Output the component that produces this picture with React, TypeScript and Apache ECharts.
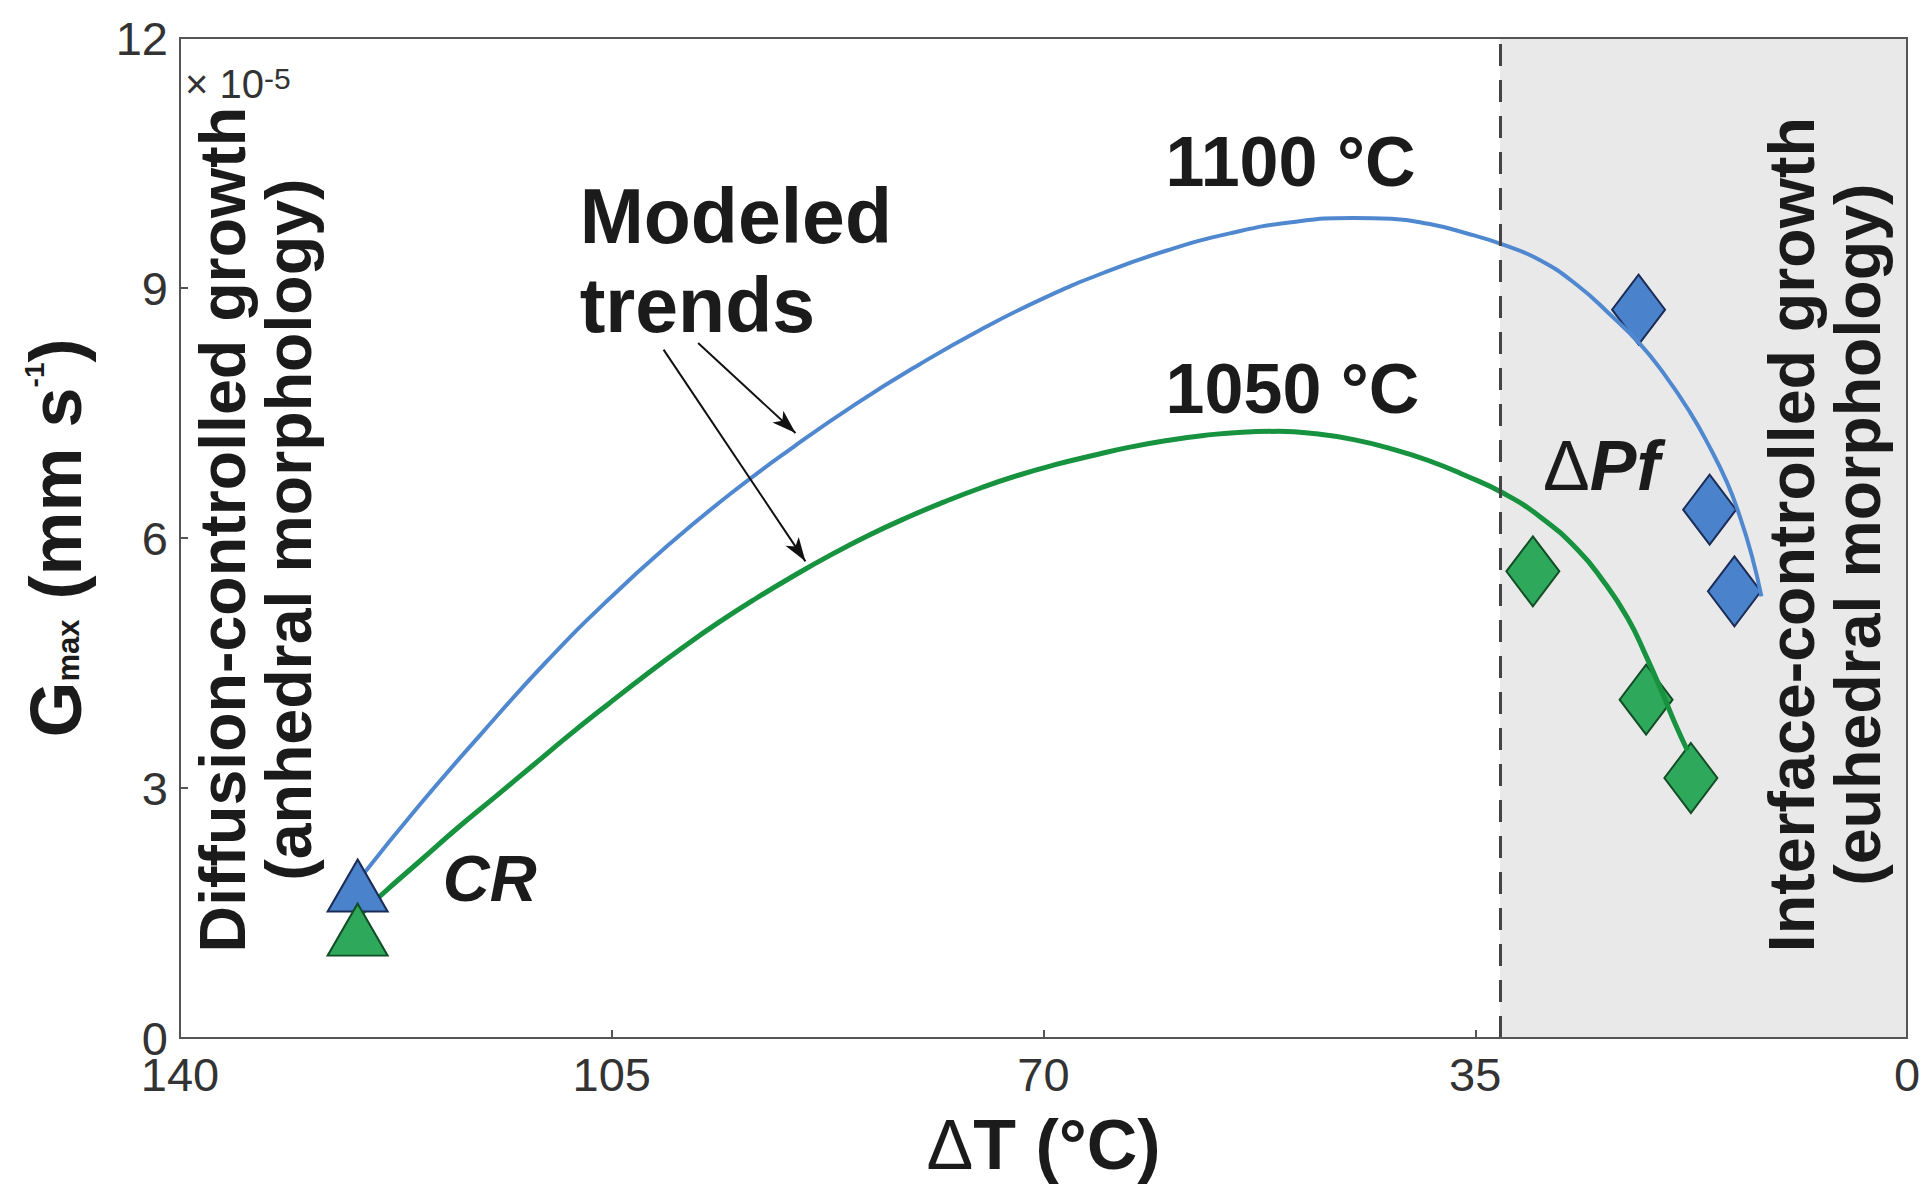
import { useEffect, useRef } from "react";
import * as echarts from "echarts";

// Undercooling ΔT (°C) against maximum growth rate Gmax (×10⁻⁵ mm s⁻¹)
const curve1100: [number, number][] = [
  [125.5, 1.9], [120.5, 2.81], [115.4, 3.68], [110.4, 4.5], [105.35, 5.25],
  [100.3, 5.93], [95.3, 6.54], [90.2, 7.1], [85.2, 7.61], [80.1, 8.08],
  [75.1, 8.5], [70.1, 8.87], [65.0, 9.19], [60.0, 9.45], [54.9, 9.655],
  [49.9, 9.79], [44.85, 9.84], [41.8, 9.83], [38.8, 9.77], [35.8, 9.66],
  [32.75, 9.52], [29.7, 9.33], [26.7, 9.03], [24.2, 8.7], [21.65, 8.33],
  [19.65, 7.96], [17.6, 7.51], [16.1, 7.12], [14.6, 6.67], [13.6, 6.28],
  [12.6, 5.8], [11.8, 5.3],
];
const curve1050: [number, number][] = [
  [125.6, 1.45], [123.5, 1.74], [120.5, 2.13], [117.5, 2.52], [114.4, 2.9],
  [111.4, 3.27], [108.4, 3.64], [105.35, 4.0], [102.3, 4.35], [99.3, 4.68],
  [96.3, 4.99], [93.25, 5.28], [90.2, 5.55], [87.2, 5.8], [84.2, 6.03],
  [81.15, 6.24], [78.1, 6.43], [75.1, 6.6], [72.1, 6.75], [69.05, 6.88],
  [66.0, 6.99], [63.0, 7.09], [60.0, 7.17], [57.0, 7.23], [53.9, 7.27],
  [50.9, 7.28], [47.9, 7.25], [44.85, 7.18], [41.8, 7.07], [38.8, 6.93],
  [35.8, 6.75], [32.75, 6.54], [29.7, 6.25], [26.7, 5.86], [24.7, 5.5],
  [22.65, 5.04], [21.14, 4.58], [19.83, 4.14], [18.82, 3.78], [17.8, 3.45],
];
const pf1100: [number, number][] = [[21.76, 8.74], [16.0, 6.34], [13.99, 5.36]];
const pf1050: [number, number][] = [[30.33, 5.6], [21.15, 4.06], [17.52, 3.12]];
const cr1100: [number, number][] = [[125.6, 1.83]];
const cr1050: [number, number][] = [[125.6, 1.3]];

// Onset of interface-controlled growth (ΔT, °C)
const pfBoundary = 33.0;

// "Modeled trends" pointer arrows, start -> end in data space
const trendArrows: [number, number][][] = [
  [[98.0, 8.34], [90.1, 7.26]],
  [[100.8, 8.26], [89.3, 5.72]],
];

const xMin = 0;
const xMax = 140;
const xStep = 35;
const yMin = 0;
const yMax = 12;
const yStep = 3;

const FONT = "Arial, 'Liberation Sans', Helvetica, sans-serif";
const INK = "#1b1b1b";
const AXIS = "#555555";
const BLUE_LINE = "#5088d0";
const GREEN_LINE = "#17923f";
const BLUE_FILL = "#4a82cc";
const BLUE_EDGE = "#1b2d57";
const GREEN_FILL = "#2ea85a";
const GREEN_EDGE = "#124d26";

export default function App() {
  const ref = useRef<HTMLDivElement>(null);

  useEffect(() => {
    const el = ref.current;
    if (!el) return;
    document.body.style.margin = "0";
    const chart = echarts.init(el, null, { renderer: "svg" });

    const option: any = {
      animation: false,
      backgroundColor: "#ffffff",
      textStyle: { fontFamily: FONT },
      grid: {
        left: 180,
        top: 38,
        width: 1727,
        height: 1000,
        show: true,
        borderColor: AXIS,
        borderWidth: 2,
        backgroundColor: "transparent",
        containLabel: false,
        outerBoundsMode: "none",
        z: 10,
      },
      xAxis: {
        type: "value",
        inverse: true,
        min: xMin,
        max: xMax,
        interval: xStep,
        z: 10,
        axisLine: { show: true, onZero: false, lineStyle: { color: AXIS, width: 2 } },
        axisTick: { show: true, inside: true, length: 8, lineStyle: { color: AXIS, width: 2 } },
        splitLine: { show: false },
        axisLabel: { fontSize: 47, color: "#333", margin: 13, fontFamily: FONT },
        name: "{d|Δ}{b|T (°C)}",
        nameLocation: "middle",
        nameGap: 72,
        nameMoveOverlap: false,
        nameTextStyle: {
          rich: {
            d: { fontSize: 70, fontWeight: "normal", color: INK, fontFamily: FONT },
            b: { fontSize: 70, fontWeight: "bold", color: INK, fontFamily: FONT },
          },
        },
      },
      yAxis: {
        type: "value",
        position: "left",
        min: yMin,
        max: yMax,
        interval: yStep,
        z: 10,
        axisLine: { show: true, onZero: false, lineStyle: { color: AXIS, width: 2 } },
        axisTick: { show: true, inside: true, length: 8, lineStyle: { color: AXIS, width: 2 } },
        splitLine: { show: false },
        axisLabel: { fontSize: 47, color: "#333", margin: 12, fontFamily: FONT },
        name: "{g|G}{sub|max}{g| (mm s}{sup|-1}{g|)}",
        nameLocation: "middle",
        nameRotate: 90,
        nameGap: 88,
        nameMoveOverlap: false,
        nameTextStyle: {
          rich: {
            g: { fontSize: 72, fontWeight: "bold", color: INK, fontFamily: FONT },
            sub: { fontSize: 31, fontWeight: "bold", color: INK, fontFamily: FONT, verticalAlign: "bottom", padding: [0, 0, 8, 0] },
            sup: { fontSize: 28, fontWeight: "bold", color: INK, fontFamily: FONT, verticalAlign: "top" },
          },
        },
      },
      series: [
        {
          // interface-controlled field and its boundary
          type: "line",
          name: "field",
          data: [],
          z: 1,
          silent: true,
          markArea: {
            silent: true,
            label: { show: false },
            itemStyle: { color: "#e9e9e9" },
            data: [[{ xAxis: pfBoundary }, { xAxis: xMin }]],
          },
          markLine: {
            silent: true,
            symbol: ["none", "none"],
            label: { show: false },
            lineStyle: { color: "#444", width: 3, type: [22, 14] },
            data: [{ xAxis: pfBoundary }],
          },
        },
        {
          type: "scatter",
          name: "1100 °C ΔPf",
          data: pf1100,
          symbol: "diamond",
          symbolSize: [53, 70],
          itemStyle: { color: BLUE_FILL, borderColor: BLUE_EDGE, borderWidth: 2, opacity: 1 },
          z: 2,
          silent: true,
        },
        {
          type: "scatter",
          name: "1050 °C ΔPf",
          data: pf1050,
          symbol: "diamond",
          symbolSize: [53, 70],
          itemStyle: { color: GREEN_FILL, borderColor: GREEN_EDGE, borderWidth: 2, opacity: 1 },
          z: 2,
          silent: true,
        },
        {
          type: "line",
          name: "1100 °C model",
          data: curve1100,
          smooth: 0.5,
          showSymbol: false,
          symbol: "none",
          lineStyle: { color: BLUE_LINE, width: 4 },
          z: 3,
          silent: true,
        },
        {
          type: "line",
          name: "1050 °C model",
          data: curve1050,
          smooth: 0.5,
          showSymbol: false,
          symbol: "none",
          lineStyle: { color: GREEN_LINE, width: 5 },
          z: 3,
          silent: true,
        },
        {
          type: "scatter",
          name: "1100 °C CR",
          data: cr1100,
          symbol: "triangle",
          symbolSize: [60, 52],
          itemStyle: { color: BLUE_FILL, borderColor: BLUE_EDGE, borderWidth: 2, opacity: 1 },
          z: 4,
          silent: true,
        },
        {
          type: "scatter",
          name: "1050 °C CR",
          data: cr1050,
          symbol: "triangle",
          symbolSize: [60, 52],
          itemStyle: { color: GREEN_FILL, borderColor: GREEN_EDGE, borderWidth: 2, opacity: 1 },
          z: 5,
          silent: true,
        },
        {
          type: "line",
          name: "pointers",
          data: [],
          z: 6,
          silent: true,
          markLine: {
            silent: true,
            symbol: ["none", "arrow"],
            symbolSize: [12, 24],
            label: { show: false },
            lineStyle: { color: "#111", width: 2, type: "solid" },
            data: trendArrows.map(([a, b]) => [{ coord: a }, { coord: b }]),
          },
        },
      ],
    };

    chart.setOption(option);

    const px = (p: [number, number]) => chart.convertToPixel({ gridIndex: 0 }, p) as number[];

    const boldText = (at: [number, number], text: string, size: number, extra: any = {}) => {
      const [x, y] = px(at);
      return {
        type: "text",
        x,
        y,
        z: 100,
        silent: true,
        style: {
          text,
          fontSize: size,
          fontWeight: "bold",
          fontFamily: FONT,
          fill: INK,
          align: "left",
          verticalAlign: "middle",
          ...extra,
        },
      };
    };

    const leftBlock = px([133.8, 6.1]);
    const rightBlock = px([6.65, 6.04]);
    const expo = px([139.6, 11.45]);
    const pfLabel = px([29.5, 6.87]);

    chart.setOption({
      graphic: [
        boldText([60.1, 10.51], "1100 °C", 70),
        boldText([60.1, 7.79], "1050 °C", 70),
        boldText([107.6, 9.33], "Modeled\ntrends", 77, { lineHeight: 89 }),
        boldText([118.7, 1.91], "CR", 65, { fontStyle: "italic" }),
        {
          type: "text",
          x: pfLabel[0],
          y: pfLabel[1],
          z: 100,
          silent: true,
          style: {
            text: "{d|Δ}{p|Pf}",
            align: "left",
            verticalAlign: "middle",
            rich: {
              d: { fontSize: 70, fontWeight: "normal", fontFamily: FONT, fill: INK },
              p: { fontSize: 70, fontWeight: "bold", fontStyle: "italic", fontFamily: FONT, fill: INK },
            },
          },
        },
        {
          type: "text",
          x: expo[0],
          y: expo[1],
          z: 100,
          silent: true,
          style: {
            text: "{a|× 10}{s|-5}",
            align: "left",
            verticalAlign: "middle",
            rich: {
              a: { fontSize: 40, fontFamily: FONT, fill: "#333" },
              s: { fontSize: 30, fontFamily: FONT, fill: "#333", verticalAlign: "top" },
            },
          },
        },
        {
          type: "text",
          x: leftBlock[0],
          y: leftBlock[1],
          rotation: Math.PI / 2,
          z: 100,
          silent: true,
          style: {
            text: "Diffusion-controlled growth\n(anhedral morphology)",
            fontSize: 64.5,
            fontWeight: "bold",
            fontFamily: FONT,
            fill: INK,
            align: "center",
            verticalAlign: "middle",
            lineHeight: 66,
          },
        },
        {
          type: "text",
          x: rightBlock[0],
          y: rightBlock[1],
          rotation: Math.PI / 2,
          z: 100,
          silent: true,
          style: {
            text: "Interface-controlled growth\n(euhedral morphology)",
            fontSize: 64.5,
            fontWeight: "bold",
            fontFamily: FONT,
            fill: INK,
            align: "center",
            verticalAlign: "middle",
            lineHeight: 66,
          },
        },
      ],
    });

    return () => {
      chart.dispose();
    };
  }, []);

  return <div ref={ref} style={{ width: 1925, height: 1191 }} />;
}
